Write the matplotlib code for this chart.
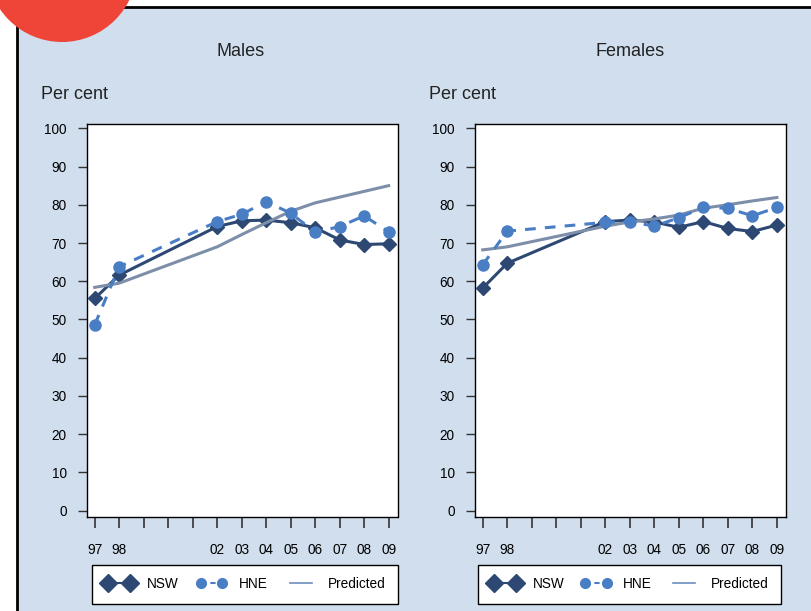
import numpy as np
import matplotlib.pyplot as plt
from matplotlib.patches import Rectangle, Ellipse
from matplotlib.lines import Line2D

plt.rcParams['font.family'] = ['Liberation Sans', 'DejaVu Sans']

# survey years (no data collected 1999-2001)
years = [1997, 1998, 2002, 2003, 2004, 2005, 2006, 2007, 2008, 2009]
tick_years = list(range(1997, 2010))
tick_labels = ['97', '98', '', '', '', '02', '03', '04', '05', '06', '07', '08', '09']

# Males
male_nsw = [55.5, 61.6, 74.3, 75.8, 76.0, 75.3, 74.0, 70.8, 69.6, 69.8]
male_hne = [48.6, 63.8, 75.6, 77.5, 80.8, 77.8, 72.8, 74.3, 77.1, 72.9]
male_pred = [58.4, 59.5, 69.0, 72.2, 75.3, 78.3, 80.5, 82.0, 83.5, 85.0]

# Females
female_nsw = [58.2, 64.7, 75.6, 76.0, 75.5, 74.1, 75.6, 73.8, 73.0, 74.7]
female_hne = [64.3, 73.1, 75.4, 75.6, 74.4, 76.6, 79.3, 79.1, 77.1, 79.3]
female_pred = [68.2, 69.0, 74.4, 75.5, 76.3, 77.3, 79.1, 80.0, 81.0, 81.9]

c_nsw = '#2C4873'
c_hne = '#4A7EC4'
c_pred = '#7D8EA9'
bg = '#D0DEEE'

W, H = 811, 611
fig = plt.figure(figsize=(W / 100, H / 100), dpi=100)

# light blue panel with black border, and the red blob in the corner
fig.add_artist(Rectangle((17 / W, -0.1), 1.2, 1 - 7 / H + 0.1, transform=fig.transFigure,
                         facecolor=bg, edgecolor='black', linewidth=2, zorder=0))
fig.add_artist(Ellipse((62 / W, 1 + 33 / H), 2 * 75 / W, 2 * 75 / H, transform=fig.transFigure,
                       facecolor='#EF4438', edgecolor='none', zorder=5))


def pixbox(x0, y0, x1, y1):
    return [x0 / W, 1 - y1 / H, (x1 - x0) / W, (y1 - y0) / H]


panels = [
    ('Males', male_nsw, male_hne, male_pred, pixbox(87, 124, 397.5, 516.7), 241, 41, (92, 565, 398, 607)),
    ('Females', female_nsw, female_hne, female_pred, pixbox(475, 124, 785.7, 516.7), 630, 429, (478, 565, 781, 607)),
]

for title, nsw, hne, pred, box, tx, px, lbox in panels:
    ax = fig.add_axes(box)
    ax.set_facecolor('white')
    ax.plot(years, nsw, color=c_nsw, lw=2.2, marker='D', ms=7.5, zorder=3)
    ax.plot(years, pred, color=c_pred, lw=2.2, zorder=4)
    ax.plot(years, hne, color=c_hne, lw=2.2, ls=(0, (3.5, 3)), marker='o', ms=8, zorder=5)

    ax.set_xlim(1996.686, 2009.36)
    ax.set_ylim(-1.57, 101.12)
    ax.set_yticks(range(0, 101, 10))
    ax.set_xticks(tick_years)
    ax.set_xticklabels(tick_labels)
    ax.tick_params(axis='y', length=6.5, width=1, pad=8, labelsize=9.8, color='#333333')
    ax.tick_params(axis='x', length=8, width=1.2, pad=11, labelsize=9.8, color='#333333')
    for s in ax.spines.values():
        s.set_linewidth(1)

    fig.text(tx / W, 1 - 56 / H, title, ha='center', va='baseline', fontsize=13, color='#222222')
    fig.text(px / W, 1 - 99 / H, 'Per cent', ha='left', va='baseline', fontsize=13, color='#222222')

    # legend keys drawn like the original: marker at both ends of a short line
    h_nsw = Line2D([], [], color=c_nsw, lw=1.5, marker='D', ms=9.5)
    h_hne = Line2D([], [], color=c_hne, lw=1.5, ls=(0, (2.5, 2)), marker='o', ms=7)
    h_pred = Line2D([], [], color='#6C8CBE', lw=1.2)
    x0, y0, x1, y1 = lbox
    leg = ax.legend([h_nsw, h_hne, h_pred], ['NSW', 'HNE', 'Predicted'], ncol=3, mode='expand',
                    loc='upper left', bbox_to_anchor=(x0 / W, 1 - y1 / H, (x1 - x0) / W, (y1 - y0) / H),
                    bbox_transform=fig.transFigure, borderaxespad=0, fontsize=9.8, numpoints=2,
                    handlelength=2.2, handletextpad=0.9, columnspacing=1.0,
                    fancybox=False, framealpha=1, edgecolor='black', borderpad=0.9)
    leg.get_frame().set_linewidth(1)

fig.savefig('out.png', dpi=100)
